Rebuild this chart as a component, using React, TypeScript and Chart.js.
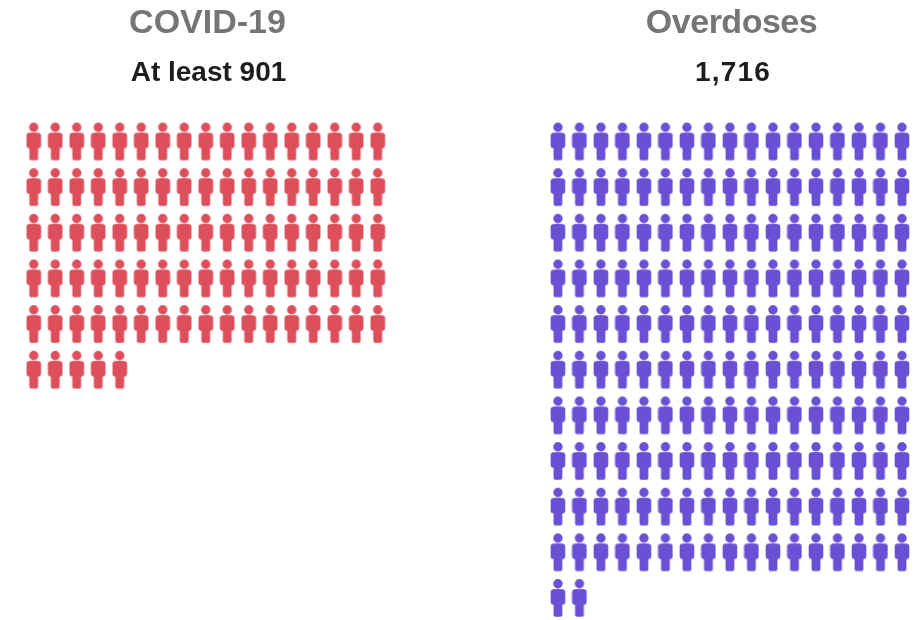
import { useEffect, useRef } from "react";
import { Chart, registerables } from "chart.js";

Chart.register(...registerables);

// One person icon per entry; each list holds the icons in each row of a panel.
const covidRowCounts = [17, 17, 17, 17, 17, 5];
const overdoseRowCounts = [17, 17, 17, 17, 17, 17, 17, 17, 17, 17, 2];

const panelTitles = ["COVID-19", "Overdoses"];
const panelTotals = ["At least 901", "1,716"];

const RED = "#dd4f5b";
const PURPLE = "#6a50d5";

// Expands per-row icon counts into scatter points on the column/row scales.
function toGridPoints(rowCounts: number[]) {
  const points: { x: number; y: number }[] = [];
  rowCounts.forEach((count, row) => {
    for (let column = 0; column < count; column++) points.push({ x: column, y: row });
  });
  return points;
}

// Paints a standing-figure marker, used as the scatter point style.
function personIcon(color: string) {
  const icon = document.createElement("canvas");
  icon.width = 16;
  icon.height = 40;
  const ctx = icon.getContext("2d")!;
  ctx.fillStyle = color;
  ctx.beginPath();
  ctx.arc(8, 5.7, 4.7, 0, Math.PI * 2);
  ctx.fill();
  ctx.beginPath();
  ctx.roundRect(0.7, 11.2, 14.6, 15.6, 3);
  ctx.fill();
  ctx.beginPath();
  ctx.roundRect(3.6, 11.2, 8.8, 27.6, 1.8);
  ctx.fill();
  return icon;
}

// Centred headings above each panel.
const panelHeadings = {
  id: "panelHeadings",
  afterDraw(chart: Chart) {
    const { ctx } = chart;
    const titleCenters = [207.5, 731.5];
    const totalCenters = [208.5, 733];
    const titleSpacing = ["0px", "-0.5px"];
    const totalSpacing = ["0px", "1.2px"];
    ctx.save();
    ctx.textAlign = "center";
    ctx.textBaseline = "alphabetic";
    panelTitles.forEach((title, i) => {
      ctx.font = 'bold 34px "Liberation Sans"';
      ctx.letterSpacing = titleSpacing[i];
      ctx.fillStyle = "#757575";
      ctx.fillText(title, titleCenters[i], 33);
      ctx.font = 'bold 28px "Liberation Sans"';
      ctx.letterSpacing = totalSpacing[i];
      ctx.fillStyle = "#1d1d1d";
      ctx.fillText(panelTotals[i], totalCenters[i], 81);
    });
    ctx.restore();
  },
};

export default function App() {
  const canvasRef = useRef<HTMLCanvasElement>(null);

  useEffect(() => {
    const chart = new Chart(canvasRef.current!, {
      type: "scatter",
      data: {
        datasets: [
          {
            label: panelTitles[0],
            data: toGridPoints(covidRowCounts),
            xAxisID: "xCovid",
            yAxisID: "yRows",
            pointStyle: personIcon(RED),
            clip: false,
          },
          {
            label: panelTitles[1],
            data: toGridPoints(overdoseRowCounts),
            xAxisID: "xOverdose",
            yAxisID: "yRows",
            pointStyle: personIcon(PURPLE),
            clip: false,
          },
        ],
      },
      options: {
        responsive: false,
        animation: false,
        layout: { padding: 0, autoPadding: false },
        plugins: { legend: { display: false }, tooltip: { enabled: false } },
        events: [],
        scales: {
          xCovid: { type: "linear", position: "bottom", display: false, min: -1.567, max: 41.22 },
          xOverdose: { type: "linear", position: "bottom", display: false, min: -25.95, max: 16.84 },
          yRows: { type: "linear", display: false, reverse: true, min: -3.1, max: 10.482 },
        },
      },
      plugins: [panelHeadings],
    });
    return () => chart.destroy();
  }, []);

  return (
    <div style={{ position: "absolute", left: 0, top: 0, width: 920, height: 620, background: "#fff" }}>
      <canvas ref={canvasRef} width={920} height={620} style={{ display: "block" }} />
    </div>
  );
}
